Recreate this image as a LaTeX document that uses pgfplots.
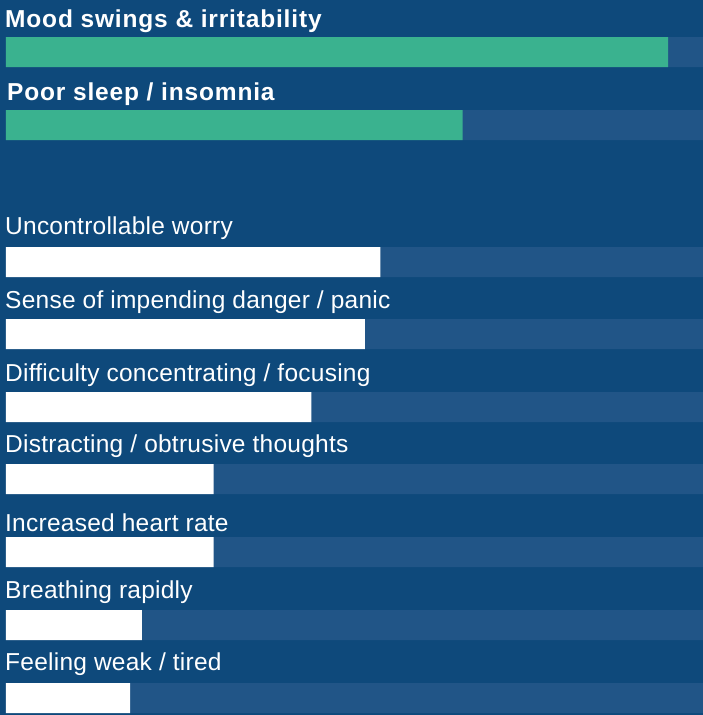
\documentclass[border=0pt]{standalone}
\usepackage{pgfplots}
\pgfplotsset{compat=1.18}
\usepackage{fontspec}
\setmainfont{Liberation Sans}

\definecolor{bgblue}{HTML}{0E497B}
\definecolor{trackblue}{HTML}{215587}
\definecolor{accent}{HTML}{3AB28F}

% symptom share (percent); pos = bar centre (pt from top)
\pgfplotstableread{
pos  value
52   95.0
125  65.5
}\highlighted
\pgfplotstableread{
pos  value
262  53.7
334  51.5
407  43.8
479  29.8
552  29.8
625  19.5
698  17.8
}\others

\newcommand{\regfont}{\fontsize{24.5}{28}\selectfont\addfontfeature{LetterSpace=1}}
\newcommand{\boldfont}{\fontsize{24.5}{28}\selectfont\bfseries\addfontfeature{LetterSpace=3.4}}

\begin{document}
\begin{tikzpicture}
\begin{axis}[
  width=703pt, height=715pt, scale only axis,
  xmin=-0.8608, xmax=100,
  ymin=0, ymax=715, y dir=reverse,
  hide axis, clip=false,
  xbar, bar width=30, /pgf/bar shift=0pt,
]
\fill[bgblue] (rel axis cs:0,0) rectangle (rel axis cs:1,1);

% full-length tracks
\addplot[xbar, bar shift=0pt, fill=trackblue, draw=none] coordinates {
  (100,52) (100,125) (100,262) (100,334) (100,407) (100,479) (100,552) (100,625) (100,698)};

\addplot[xbar, bar shift=0pt, fill=accent, draw=none] table[x=value, y=pos] {\highlighted};
\addplot[xbar, bar shift=0pt, fill=white, draw=none] table[x=value, y=pos] {\others};

\begin{scope}[every node/.style={anchor=base west, inner sep=0pt, text=white}]
\node[font=\boldfont] at (axis cs:-0.143,27) {Mood swings \& irritability};
\node[font=\boldfont] at (axis cs:0.14,100) {Poor sleep / insomnia};
\node[font=\regfont] at (axis cs:-0.143,234) {Uncontrollable worry};
\node[font=\regfont] at (axis cs:-0.143,308.3) {Sense of impending danger / panic};
\node[font=\regfont] at (axis cs:-0.143,381.7) {Difficulty concentrating / focusing};
\node[font=\regfont] at (axis cs:-0.143,452.7) {Distracting / obtrusive thoughts};
\node[font=\regfont] at (axis cs:-0.143,531.7) {Increased heart rate};
\node[font=\regfont] at (axis cs:-0.143,598.3) {Breathing rapidly};
\node[font=\regfont] at (axis cs:-0.143,670.7) {Feeling weak / tired};
\end{scope}
\end{axis}
\end{tikzpicture}
\end{document}
